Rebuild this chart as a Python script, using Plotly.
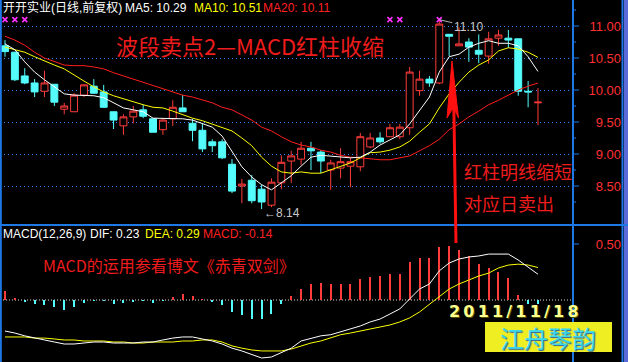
import plotly.graph_objects as go

W, H = 628, 362

# ---------------- data ----------------
days = list(range(1, 56))
open_ = [10.69, 10.59, 10.22, 10.11, 9.98, 10.09, 9.70, 9.66, 9.92, 10.06,
         9.97, 9.66, 9.44, 9.58, 9.69, 9.55, 9.38, 9.55, 9.72, 9.48,
         9.37, 9.19, 9.19, 8.84, 8.50, 8.59, 8.45, 8.20, 8.55, 8.89,
         8.92, 9.09, 9.03, 8.75, 8.78, 8.81, 8.80, 9.11, 9.25, 9.27,
         9.27, 9.41, 9.99, 10.17, 10.11, 10.87, 10.69, 10.75, 10.62, 10.53,
         10.81, 10.81, 10.80, 9.98, 9.80]
high = [10.78, 10.60, 10.34, 10.17, 10.30, 10.09, 9.80, 9.95, 10.09, 10.17,
        10.08, 9.66, 9.62, 9.75, 9.77, 9.55, 9.56, 9.84, 9.92, 9.55,
        9.47, 9.23, 9.23, 8.92, 8.61, 8.67, 8.52, 8.62, 8.98, 9.05,
        9.19, 9.19, 9.06, 8.91, 9.09, 8.94, 9.33, 9.33, 9.34, 9.47,
        9.47, 10.36, 10.30, 10.22, 11.10, 10.87, 10.98, 10.81, 10.87, 10.91,
        10.94, 10.94, 10.80, 10.14, 10.03]
low = [10.52, 10.14, 10.09, 9.89, 9.89, 9.75, 9.62, 9.66, 9.89, 9.94,
       9.72, 9.39, 9.30, 9.48, 9.56, 9.34, 9.30, 9.44, 9.66, 9.20,
       9.03, 9.03, 8.92, 8.39, 8.23, 8.23, 8.14, 8.17, 8.45, 8.55,
       8.83, 8.75, 8.70, 8.44, 8.62, 8.48, 8.73, 9.09, 9.16, 9.27,
       9.23, 9.30, 9.91, 10.05, 10.09, 10.53, 10.69, 10.44, 10.42, 10.41,
       10.69, 10.66, 9.91, 9.73, 9.45]
close = [10.60, 10.16, 10.11, 9.97, 10.11, 9.81, 9.75, 9.92, 10.08, 9.95,
         9.73, 9.53, 9.58, 9.67, 9.59, 9.34, 9.53, 9.73, 9.66, 9.37,
         9.08, 9.13, 8.94, 8.42, 8.53, 8.27, 8.25, 8.56, 8.87, 8.97,
         9.09, 9.05, 8.89, 8.86, 8.88, 8.88, 9.27, 9.25, 9.19, 9.41,
         9.42, 10.28, 10.17, 10.11, 11.03, 10.84, 10.72, 10.67, 10.56, 10.80,
         10.86, 10.78, 9.98, 9.97, 9.81]

ma5 = [10.72, 10.63, 10.44, 10.28, 10.16, 10.05, 9.94, 9.92, 9.92, 9.91,
       9.88, 9.80, 9.72, 9.69, 9.66, 9.56, 9.56, 9.56, 9.55, 9.53,
       9.47, 9.42, 9.28, 9.03, 8.80, 8.64, 8.52, 8.44, 8.55, 8.66,
       8.81, 8.95, 8.98, 8.97, 8.95, 8.94, 8.95, 9.03, 9.14, 9.22,
       9.30, 9.47, 9.69, 9.89, 10.28, 10.52, 10.56, 10.67, 10.73, 10.77,
       10.73, 10.73, 10.69, 10.52, 10.29]
ma10 = [10.67, 10.63, 10.59, 10.52, 10.45, 10.39, 10.33, 10.23, 10.14, 10.05,
        9.97, 9.91, 9.86, 9.81, 9.77, 9.73, 9.72, 9.67, 9.61, 9.56,
        9.52, 9.47, 9.42, 9.36, 9.25, 9.13, 8.95, 8.81, 8.72, 8.70,
        8.72, 8.70, 8.70, 8.75, 8.80, 8.86, 8.94, 9.02, 9.03, 9.06,
        9.11, 9.20, 9.34, 9.47, 9.72, 9.94, 10.12, 10.28, 10.39, 10.47,
        10.61, 10.66, 10.64, 10.59, 10.51]
ma20 = [10.84, 10.78, 10.70, 10.59, 10.50, 10.44, 10.39, 10.38, 10.38, 10.36,
        10.33, 10.27, 10.22, 10.17, 10.13, 10.08, 10.02, 9.97, 9.92, 9.89,
        9.84, 9.80, 9.73, 9.69, 9.61, 9.53, 9.42, 9.36, 9.27, 9.19,
        9.14, 9.11, 9.06, 9.03, 8.98, 8.95, 8.94, 8.92, 8.91, 8.91,
        8.94, 8.97, 9.05, 9.13, 9.23, 9.38, 9.47, 9.58, 9.67, 9.77,
        9.84, 9.92, 10.00, 10.06, 10.11]

dif = [-0.277, -0.295, -0.32, -0.34, -0.357, -0.375, -0.393, -0.393, -0.384, -0.375,
       -0.375, -0.384, -0.384, -0.384, -0.375, -0.375, -0.357, -0.34, -0.33, -0.33,
       -0.348, -0.366, -0.393, -0.43, -0.455, -0.49, -0.518, -0.509, -0.473, -0.43,
       -0.366, -0.34, -0.32, -0.31, -0.286, -0.26, -0.232, -0.196, -0.17, -0.125,
       -0.08, 0.01, 0.098, 0.143, 0.26, 0.33, 0.366, 0.384, 0.393, 0.41,
       0.41, 0.41, 0.357, 0.295, 0.23]
dea = [-0.33, -0.33, -0.33, -0.34, -0.34, -0.348, -0.357, -0.357, -0.366, -0.366,
       -0.366, -0.375, -0.375, -0.384, -0.384, -0.375, -0.375, -0.375, -0.366, -0.366,
       -0.357, -0.357, -0.375, -0.41, -0.43, -0.446, -0.455, -0.455, -0.455, -0.438,
       -0.41, -0.384, -0.366, -0.34, -0.31, -0.295, -0.277, -0.26, -0.24, -0.223,
       -0.196, -0.16, -0.107, -0.036, 0.027, 0.098, 0.143, 0.18, 0.214, 0.24,
       0.286, 0.312, 0.32, 0.312, 0.29]
macd_hist = [0.083, 0.02, -0.01, -0.039, -0.045, -0.065, -0.089, -0.06, -0.024, -0.005,
             -0.005, -0.036, -0.03, -0.015, -0.005, -0.024, -0.005, 0.024, 0.054, 0.036,
             0.005, -0.015, -0.045, -0.11, -0.13, -0.17, -0.17, -0.125, -0.036, 0.036,
             0.098, 0.143, 0.15, 0.143, 0.143, 0.143, 0.19, 0.205, 0.214, 0.232,
             0.232, 0.34, 0.375, 0.375, 0.47, 0.48, 0.446, 0.39, 0.32, 0.286,
             0.25, 0.196, 0.045, -0.036, -0.036]

signal_days = [1, 2, 3, 40, 41, 45]
signal_level = 11.10

price_ticks = [8.5, 9.0, 9.5, 10.0, 10.5, 11.0]
price_tick_text = ["8.50", "9.00", "9.50", "10.00", "10.50", "11.00"]
price_minor_ticks = [8.25, 8.75, 9.25, 9.75, 10.25, 10.75, 11.25]
macd_ticks = [0.5]
macd_tick_text = ["0.50"]

# ---------------- styles ----------------
RED = "#FF3C3C"
CYAN = "#54FCFC"
BLUE = "#1E78E6"
GRID = "#2a86ff"
TXTRED = "#EE1C1C"
FONT = "Liberation Sans, Noto Sans CJK SC, sans-serif"
CJK = "Noto Sans CJK SC, sans-serif"

def fx(px):
    return px / W

def fy(py):
    return 1 - py / H

X0 = 4.87 / 9.87
X1 = X0 + 573 / 9.87
XDOM = [0, 573 / W]

fig = go.Figure()

fig.add_trace(go.Candlestick(
    x=days, open=open_, high=high, low=low, close=close,
    increasing=dict(line=dict(color=RED, width=1), fillcolor="black"),
    decreasing=dict(line=dict(color=CYAN, width=1), fillcolor=CYAN),
    whiskerwidth=0, xaxis="x", yaxis="y", hoverinfo="skip"))

for arr, col in [(ma20, "#FF1E1E"), (ma10, "#FFFF00"), (ma5, "#FFFFFF")]:
    fig.add_trace(go.Scatter(x=days, y=arr, mode="lines",
                             line=dict(color=col, width=1),
                             xaxis="x", yaxis="y", hoverinfo="skip"))

fig.add_trace(go.Scatter(x=signal_days, y=[signal_level] * len(signal_days),
                         mode="markers",
                         marker=dict(symbol="x-thin", size=5,
                                     line=dict(color="#FF30FF", width=1.6)),
                         xaxis="x", yaxis="y", hoverinfo="skip"))

fig.add_trace(go.Bar(x=days, y=macd_hist, width=0.105,
                     marker=dict(color=[RED if v >= 0 else CYAN for v in macd_hist],
                                 line=dict(width=0)),
                     xaxis="x2", yaxis="y2", hoverinfo="skip"))
fig.add_trace(go.Scatter(x=days, y=dea, mode="lines",
                         line=dict(color="#FFFF00", width=1),
                         xaxis="x2", yaxis="y2", hoverinfo="skip"))
fig.add_trace(go.Scatter(x=days, y=dif, mode="lines",
                         line=dict(color="#FFFFFF", width=1),
                         xaxis="x2", yaxis="y2", hoverinfo="skip"))

shapes = []
def vline(px, color=BLUE, width=2):
    shapes.append(dict(type="line", xref="paper", yref="paper",
                       x0=fx(px), x1=fx(px), y0=0, y1=1,
                       line=dict(color=color, width=width)))

vline(0.8)
vline(573)
vline(622.5)
shapes.append(dict(type="rect", xref="paper", yref="paper", x0=fx(624), x1=1,
                   y0=0, y1=1, fillcolor="#5a6ad8", line=dict(width=0)))
shapes.append(dict(type="line", xref="paper", yref="paper", x0=0, x1=1,
                   y0=fy(225), y1=fy(225), line=dict(color=BLUE, width=2)))
# right-axis tick marks
for v in price_ticks:
    shapes.append(dict(type="line", xref="paper", yref="y", x0=fx(573), x1=fx(579),
                       y0=v, y1=v, line=dict(color=BLUE, width=1)))
for v in price_minor_ticks:
    shapes.append(dict(type="line", xref="paper", yref="y", x0=fx(573), x1=fx(576),
                       y0=v, y1=v, line=dict(color=BLUE, width=1)))
for v in macd_ticks:
    shapes.append(dict(type="line", xref="paper", yref="y2", x0=fx(573), x1=fx(579),
                       y0=v, y1=v, line=dict(color=BLUE, width=1)))
# MACD zero line
shapes.append(dict(type="line", xref="paper", yref="y2", x0=0, x1=fx(572),
                   y0=0, y1=0, line=dict(color="#d8d8d8", width=1, dash="1px,2px"),
                   layer="below"))
# red arrow
shapes.append(dict(type="line", xref="paper", yref="paper",
                   x0=fx(453.8), y0=fy(106), x1=fx(456), y1=fy(243),
                   line=dict(color="#FF1010", width=3)))
shapes.append(dict(type="path", xref="paper", yref="paper",
                   path=(f"M {fx(452)},{fy(61)} L {fx(458.5)},{fy(118)} "
                         f"L {fx(453.5)},{fy(107)} L {fx(447)},{fy(118)} Z"),
                   fillcolor="#FF1010", line=dict(color="#FF1010", width=1)))
# signature box
shapes.append(dict(type="rect", xref="paper", yref="paper",
                   x0=fx(485), x1=fx(612), y0=fy(352), y1=fy(322),
                   fillcolor="#EEEE22", line=dict(width=0)))

ann = []
def text(px, py, s, color, size, anchor="left", family=FONT, **kw):
    ann.append(dict(xref="paper", yref="paper", x=fx(px), y=fy(py), text=s,
                    showarrow=False, xanchor=anchor, yanchor="middle",
                    font=dict(color=color, size=size, family=family, **kw)))

text(1, 8, "开开实业(日线,前复权)", "#FFFFFF", 12)
text(123, 8, "MA5: 10.29", "#FFFFFF", 12)
text(192, 8, "MA10: 10.51", "#FFFF00", 12)
text(261, 8, "MA20: 10.11", "#FF2020", 12)

text(114, 45, "波段卖点2—MACD红柱收缩", TXTRED, 22, family=CJK)
text(462, 171, "红柱明线缩短", TXTRED, 18, family=CJK)
text(462, 203, "对应日卖出", TXTRED, 18, family=CJK)

text(1, 234, "MACD(12,26,9)", "#FFFFFF", 12)
text(88, 234, "DIF: 0.23", "#FFFFFF", 12)
text(143, 234, "DEA: 0.29", "#FFFF00", 12)
text(201, 234, "MACD: -0.14", "#FF2020", 12)
text(41, 265, "MACD的运用参看博文《赤青双剑》", TXTRED, 16, family=CJK)

date_txt = "\u2009".join("2011/11/18")
text(514, 311, f"<b>{date_txt}</b>", "#FFFF90", 16, anchor="center",
     family="DejaVu Sans, sans-serif", shadow="1px 1px 0px #505000")
text(548, 337, "江舟琴韵", "#38D8EC", 24, anchor="center", family=CJK,
     shadow="1px 1px 1px #3060a0")

# max / min labels tied to data
imax = high.index(max(high))
imin = low.index(min(low))
ann.append(dict(xref="x", yref="y", x=days[imax], y=high[imax], text=f"{max(high):.2f}",
                showarrow=True, arrowhead=0, arrowwidth=1, arrowcolor="#b0b0b0",
                ax=29, ay=7, font=dict(color="#c8c8c8", size=12, family=FONT)))
ann.append(dict(xref="x", yref="y", x=days[imin], y=low[imin], text=f"←{min(low):.2f}",
                showarrow=False, xanchor="left", yanchor="middle", yshift=-4,
                font=dict(color="#c8c8c8", size=12, family=FONT)))

axis_common = dict(showline=False, zeroline=False, ticks="",
                   tickfont=dict(color="#FF3030", size=13, family=FONT))

fig.update_layout(
    width=W, height=H, margin=dict(l=0, r=0, t=0, b=0, pad=0),
    paper_bgcolor="black", plot_bgcolor="black", showlegend=False,
    boxgap=0.3, boxgroupgap=0, bargap=0,
    xaxis=dict(domain=XDOM, range=[X0, X1], visible=False, anchor="y",
               rangeslider=dict(visible=False)),
    xaxis2=dict(domain=XDOM, range=[X0, X1], visible=False, anchor="y2"),
    yaxis=dict(domain=[140 / H, 1], range=[7.9375, 11.40625],
               tickvals=price_ticks, ticktext=price_tick_text,
               side="left", anchor="free", position=fx(621),
               showgrid=True, gridcolor=GRID, griddash="1px,3px", gridwidth=1,
               **axis_common),
    yaxis2=dict(domain=[0, 137 / H], range=[-0.5536, 0.6696],
                tickvals=macd_ticks, ticktext=macd_tick_text,
                side="left", anchor="free", position=fx(621),
                showgrid=False, **axis_common),
    shapes=shapes, annotations=ann,
)

fig.write_html("out.html")
